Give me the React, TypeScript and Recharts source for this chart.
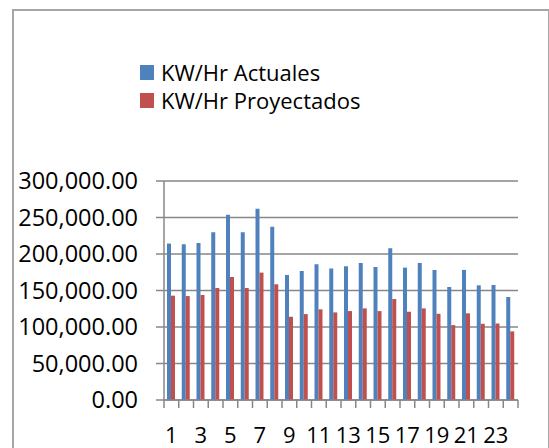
import { BarChart, Bar, XAxis, YAxis, CartesianGrid } from "recharts";

const HOURS = ["1", "2", "3", "4", "5", "6", "7", "8", "9", "10", "11", "12", "13", "14", "15", "16", "17", "18", "19", "20", "21", "22", "23", "24"];
const ACTUALES = [214300, 213400, 215200, 229900, 253700, 229900, 262000, 237200, 171300, 176800, 186000, 180300, 183200, 187800, 182300, 208000, 181300, 187800, 178200, 154800, 178200, 157100, 157500, 141100];
const PROYECTADOS = [142900, 142400, 143800, 153400, 168500, 153400, 174500, 158500, 114000, 117700, 124200, 120000, 121800, 125500, 121800, 138300, 120900, 125500, 118100, 102600, 118700, 104400, 104800, 94000];
const Y_TICKS = [0, 50000, 100000, 150000, 200000, 250000, 300000];
const SERIES = [
  { key: "actual", name: "KW/Hr Actuales", color: "#4F81BD" },
  { key: "proj", name: "KW/Hr Proyectados", color: "#C0504D" },
];

const W = 549, H = 448;
const M = { top: 181, right: 31, left: 0, bottom: 0 };
const Y_W = 164;
const AXIS = "#878787";
const FONT = "'Open Sans', sans-serif";
const TICK_GAP = 27;
const HALF_BAND = (W - M.left - M.right - Y_W) / HOURS.length / 2;

const data = HOURS.map((h, i) => ({ hour: h, actual: ACTUALES[i], proj: PROYECTADOS[i] }));

const fmt = (v: number) => v.toLocaleString("en-US", { minimumFractionDigits: 2, maximumFractionDigits: 2 });

// excel style: tick marks between categories, label on every other one
function HourTick({ x, y, payload, index }: any) {
  const axisY = y - TICK_GAP;
  return (
    <g>
      <line x1={x - HALF_BAND} x2={x - HALF_BAND} y1={axisY} y2={axisY + 8} stroke={AXIS} strokeWidth={1.5} />
      {index === HOURS.length - 1 && (
        <line x1={x + HALF_BAND} x2={x + HALF_BAND} y1={axisY} y2={axisY + 8} stroke={AXIS} strokeWidth={1.5} />
      )}
      {index % 2 === 0 && (
        <text x={x} y={y} dy="0.71em" textAnchor="middle" fontFamily={FONT} fontSize={22} fill="#000">{payload.value}</text>
      )}
    </g>
  );
}

export default function App() {
  return (
    <div style={{ position: "fixed", left: 0, top: 0, width: W, height: H, overflow: "hidden", background: "#fff" }}>
      <div style={{ position: "absolute", left: 12, top: 9, width: 534, height: 460, border: "2px solid #a6a6a6" }} />
      <div style={{ position: "absolute", left: 140, top: 58, fontFamily: FONT, fontSize: 22, color: "#000", lineHeight: "28px" }}>
        {SERIES.map(s => (
          <div key={s.key} style={{ display: "flex", alignItems: "center" }}>
            <span style={{ width: 14, height: 15, background: s.color, display: "inline-block", marginRight: 7 }} />
            {s.name}
          </div>
        ))}
      </div>
      <div style={{ position: "absolute", left: 0, top: 0 }}>
        <BarChart width={W} height={H} data={data} margin={M} barGap={0} barSize={4}>
          <CartesianGrid vertical={false} stroke={AXIS} strokeWidth={1.5} />
          <XAxis dataKey="hour" interval={0} height={48} axisLine={{ stroke: AXIS, strokeWidth: 1.5 }} tickLine={false} tickSize={0} tickMargin={TICK_GAP} tick={<HourTick />} />
          <YAxis domain={[0, 300000]} ticks={Y_TICKS} width={Y_W} tickFormatter={fmt} axisLine={{ stroke: AXIS, strokeWidth: 1.5 }} tickLine={{ stroke: AXIS, strokeWidth: 1.5 }} tickSize={8} tickMargin={18} tick={{ fontFamily: FONT, fontSize: 23.5, fill: "#000" }} />
          {SERIES.map(s => (
            <Bar key={s.key} dataKey={s.key} name={s.name} fill={s.color} isAnimationActive={false} />
          ))}
        </BarChart>
      </div>
    </div>
  );
}
